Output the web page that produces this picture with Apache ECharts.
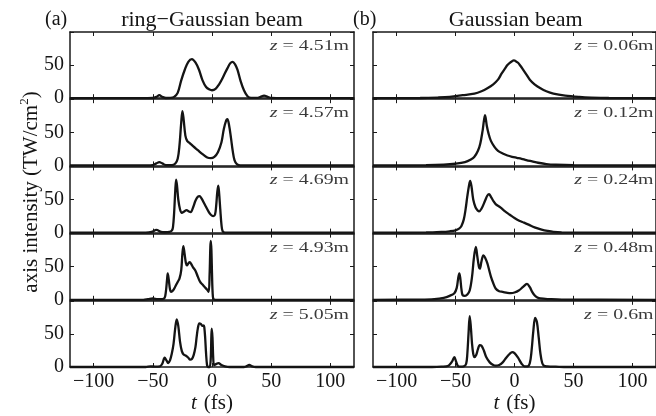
<!DOCTYPE html>
<html>
<head>
<meta charset="utf-8">
<script src="https://cdn.jsdelivr.net/npm/echarts@6/dist/echarts.min.js"></script>
<style>
  html, body { margin: 0; padding: 0; background: #fff; }
  #chart { width: 656px; height: 416px; }
</style>
</head>
<body>
<div id="chart"></div>
<script>
// On-axis intensity (TW/cm^2) versus local time t (fs) at several propagation distances.
const tTicks = [-100, -50, 0, 50, 100];
const intensityTicks = [0, 50];

// (a) ring-Gaussian beam
const ringZ = ['4.51', '4.57', '4.69', '4.93', '5.05'];
const ring451 = [[-120,0],[-60,0],[-50,0.3],[-47,2],[-44.5,4.5],[-42,2],[-39,0.3],[-35,0.5],[-32,2],[-29,8],[-26,27],[-23,43],[-20,55],[-17,59],[-14,54],[-11,43],[-8,27],[-5,17],[-2,13],[0,12],[3,14],[6,21],[8,27],[11,38],[13,45],[15.5,53],[17.5,55],[19.5,51],[21.5,43],[24,27],[27,12],[30,3],[33,0.5],[38,0.5],[41,2],[44,4],[47,2],[50,0.3],[60,0],[120,0]];
const ring457 = [[-120,0],[-55,0],[-50,0.5],[-47,3],[-44.5,5],[-42,3],[-39,0.5],[-34,0.5],[-31,3],[-29,10],[-27.5,30],[-26,65],[-25,82],[-24,70],[-22.5,45],[-21,37],[-19,34],[-16,29],[-12,23],[-8,17],[-4,12],[-1,11],[2,13],[5,20],[8,35],[10,55],[12,68],[13,70],[14.5,60],[16,42],[17.5,22],[19,8],[21,2],[24,0],[120,0]];
const ring469 = [[-120,0],[-56,0],[-51,1],[-47,4],[-43,1],[-40,0.5],[-36,1],[-34,3],[-33,8],[-32,30],[-31,65],[-30.3,80],[-29.5,70],[-28.5,50],[-27,35],[-25.5,30],[-23.5,32],[-21.5,34],[-19.5,32],[-18,31],[-16,38],[-14,48],[-12,54],[-10.5,55],[-9,52],[-6,42],[-3,32],[-1,27],[1,25],[2.5,27],[3.5,40],[4.5,62],[5.3,71],[6,60],[7,35],[8,12],[9,2],[11,0],[120,0]];
const ring493 = [[-120,0],[-58,0],[-54,1],[-50,2],[-46,1],[-42,1],[-40,3],[-39,12],[-38,30],[-37.4,40],[-36.5,30],[-35.5,16],[-34.5,12],[-33,14],[-31,20],[-29,27],[-27.5,32],[-26,45],[-25,70],[-24.2,81],[-23.2,70],[-22,55],[-21.2,52],[-20,55],[-18.8,57],[-17.5,54],[-16,49],[-14,44],[-12,35],[-10,27],[-8,23],[-6,19],[-4,15],[-2.8,12],[-2,40],[-1.4,80],[-1,89],[-0.5,75],[0,40],[0.5,12],[1.2,1],[3,0],[120,0]];
const ring505 = [[-120,0],[-56,0],[-52,1],[-48,0.5],[-44,1],[-42,5],[-40,14],[-38.5,10],[-37,6],[-35.5,10],[-34,20],[-32.5,35],[-31,60],[-29.8,72],[-28.5,62],[-27,38],[-25.5,24],[-24,19],[-22,17],[-20,14],[-18.5,11],[-17,12],[-15.5,18],[-14,30],[-13,45],[-12,58],[-10.7,66],[-9.5,65],[-8,62],[-7,63],[-6.5,60],[-5.8,45],[-5,20],[-4.2,3],[-3.5,0],[-2,0],[-1,15],[-0.3,58],[0.4,45],[1,15],[1.7,3],[3,4],[5.5,6],[8,3],[11,1],[15,0],[27,0],[29,1],[31.5,3],[34,1],[37,0],[120,0]];

// (b) Gaussian beam
const gaussZ = ['0.06', '0.12', '0.24', '0.48', '0.6'];
const gauss006 = [[-120,0],[-80,0.3],[-65,1],[-55,2],[-44,4.5],[-34,7],[-28,10.5],[-23,15],[-18,21],[-14,28],[-11,37],[-8,45],[-6,50],[-4,53.5],[-2,56],[-0.5,57],[1,56],[3,53.5],[5,49],[7,44],[10,36],[13,28],[17,21],[22,15],[27,10.5],[33,7],[43,4],[55,2],[65,1],[80,0.3],[120,0]];
const gauss012 = [[-120,0],[-75,0.3],[-60,1],[-50,2.5],[-42,5],[-37,9],[-34,13],[-31,22],[-29,33],[-27,53],[-25,76],[-23.5,60],[-22,48],[-20,37],[-17,28],[-14,22],[-10,18],[-6,15],[-2,13],[2,11.5],[6,10],[10,8],[15,6],[20,4],[27,2],[35,1],[50,0.3],[120,0]];
const gauss024 = [[-120,0],[-75,0.2],[-62,1],[-55,2],[-50,3.5],[-47,6],[-45,10],[-43,20],[-41.5,35],[-40,55],[-38.5,72],[-37.6,78],[-36.5,70],[-35,50],[-33,38],[-31,33],[-30,32],[-28,36],[-25,48],[-23,56],[-21.6,58],[-20,54],[-18,48],[-16,43],[-12,38],[-8,32],[-4,27],[0,22],[4,18],[8,15],[12,12],[17,8],[23,4.6],[28,2.5],[33,1],[40,0.3],[120,0]];
const gauss048 = [[-120,0],[-80,0.3],[-68,1],[-60,3],[-55,6],[-51,10],[-49,18],[-47.8,32],[-46.8,40],[-46,33],[-45,16],[-44,7],[-42,6],[-40,8],[-38,14],[-36,35],[-34.5,62],[-32.8,80],[-31.5,65],[-30.2,50],[-29.4,47],[-28,58],[-26.4,67],[-25,64],[-23,55],[-21.5,45],[-20,35],[-18,25],[-16,17],[-13,13],[-10,12],[-6,10.5],[-3,10],[0,11],[3.6,14],[7,19],[10.6,24],[13,19],[15,12],[17,7],[19,4],[22,2],[30,1],[40,0.3],[120,0]];
const gauss060 = [[-120,0],[-70,0],[-62,0.5],[-56,2],[-53,8],[-51,15],[-49.5,8],[-48,1.5],[-46,0.5],[-43,1],[-41,5],[-40,20],[-39,50],[-38,77],[-37,60],[-36,35],[-35,20],[-34,15],[-32.5,18],[-31,27],[-29.5,33],[-28,32],[-26,25],[-24,15],[-21,7],[-18,3],[-16,2],[-13,3],[-10,7],[-7,14],[-4,20],[-2,22.5],[0,21],[3,14],[6,5],[8.5,1],[11,1],[13,6],[14.5,25],[16,55],[17.5,74],[19,68],[20.5,45],[22,20],[23.5,6],[25,2],[28,1],[35,0.5],[45,0],[120,0]];

const columns = [
  { z: ringZ, curves: [ring451, ring457, ring469, ring493, ring505], left: 70, width: 284, tag: '(a)', title: 'ring\u2212Gaussian beam' },
  { z: gaussZ, curves: [gauss006, gauss012, gauss024, gauss048, gauss060], left: 373, width: 285.5, tag: '(b)', title: 'Gaussian beam' }
];

const FONT = '"Liberation Serif", "Times New Roman", serif';
const INK = '#141414';
const LABEL_INK = '#3a3a3a';
const TOP = 32, ROW = 67.2, PANEL_H = 66.2;

const grids = [], xAxes = [], yAxes = [], series = [], graphics = [];
const axisLine = { show: true, onZero: false, lineStyle: { color: '#1a1a1a', width: 1.5 } };
const tick = { show: true, inside: true, length: 4, lineStyle: { color: '#1a1a1a', width: 1 } };
const minusFmt = v => (v < 0 ? '\u2212' + Math.abs(v) : String(v));

columns.forEach((col, c) => {
  col.curves.forEach((curve, r) => {
    const g = grids.length;
    const top = TOP + ROW * r;
    grids.push({ left: col.left, top: top, width: col.width, height: PANEL_H, containLabel: false });
    const isBottom = r === col.curves.length - 1;
    xAxes.push({
      gridIndex: g, type: 'value', min: -120, max: 120, position: 'bottom',
      axisLine: axisLine,
      axisTick: Object.assign({}, tick, { customValues: tTicks }),
      axisLabel: { show: isBottom, customValues: tTicks, formatter: minusFmt, fontFamily: FONT, fontSize: 20, color: INK, margin: 5 },
      splitLine: { show: false },
      name: isBottom ? '{i|t}{n|(fs)}' : '', nameLocation: 'middle', nameGap: 26,
      nameTextStyle: { rich: {
        i: { fontFamily: FONT, fontStyle: 'italic', fontSize: 21, color: INK, padding: [0, 7, 0, 0] },
        n: { fontFamily: FONT, fontSize: 21, color: INK }
      } }
    });
    xAxes.push({
      gridIndex: g, type: 'value', min: -120, max: 120, position: 'top',
      axisLine: axisLine,
      axisTick: Object.assign({}, tick, { customValues: tTicks }),
      axisLabel: { show: false }, splitLine: { show: false }
    });
    yAxes.push({
      gridIndex: g, type: 'value', min: 0, max: 100, interval: 50, position: 'left',
      axisLine: axisLine, axisTick: tick,
      axisLabel: { show: c === 0, customValues: intensityTicks, fontFamily: FONT, fontSize: 20, color: INK, margin: 6 },
      splitLine: { show: false }
    });
    yAxes.push({
      gridIndex: g, type: 'value', min: 0, max: 100, interval: 50, position: 'right',
      axisLine: axisLine, axisTick: tick, axisLabel: { show: false }, splitLine: { show: false }
    });
    series.push({
      type: 'line', xAxisIndex: 2 * g, yAxisIndex: 2 * g, data: curve,
      showSymbol: false, symbol: 'none', smooth: 0.35, clip: false,
      lineStyle: { color: INK, width: 2.3 }, animation: false
    });
    // distance label in the upper-right corner of each panel (set wide, like a math font)
    graphics.push({
      type: 'text', x: col.left + col.width - 5, y: top + 14, scaleX: 1.28,
      style: {
        text: '{i|z}{e|=}{n|' + col.z[r] + 'm}', align: 'right', verticalAlign: 'middle',
        rich: {
          i: { fontFamily: FONT, fontStyle: 'italic', fontSize: 15.5, fill: LABEL_INK },
          e: { fontFamily: FONT, fontSize: 15.5, fill: LABEL_INK, padding: [0, 4, 0, 4] },
          n: { fontFamily: FONT, fontSize: 15.5, fill: LABEL_INK }
        }
      }
    });
  });
  graphics.push({
    type: 'text', x: col.left + col.width / 2, y: 20,
    style: { text: col.title, align: 'center', verticalAlign: 'middle', fontFamily: FONT, fontSize: 22, fill: INK }
  });
  graphics.push({
    type: 'text', x: col.left - 25 + (c === 1 ? 5 : 0), y: 20,
    style: { text: col.tag, align: 'left', verticalAlign: 'middle', fontFamily: FONT, fontSize: 20, fill: INK }
  });
});

// shared vertical axis title
graphics.push({
  type: 'text', x: 31, y: 192, rotation: Math.PI / 2,
  style: {
    text: '{n|axis intensity (TW/cm}{s|2}{n|)}', align: 'center', verticalAlign: 'middle',
    rich: {
      n: { fontFamily: FONT, fontSize: 21, fill: INK, lineHeight: 26 },
      s: { fontFamily: FONT, fontSize: 13, fill: INK, lineHeight: 14, verticalAlign: 'top' }
    }
  }
});

const chart = echarts.init(document.getElementById('chart'), null, { renderer: 'canvas' });
chart.setOption({
  animation: false,
  backgroundColor: '#ffffff',
  grid: grids, xAxis: xAxes, yAxis: yAxes, series: series,
  graphic: graphics
});
</script>
</body>
</html>
